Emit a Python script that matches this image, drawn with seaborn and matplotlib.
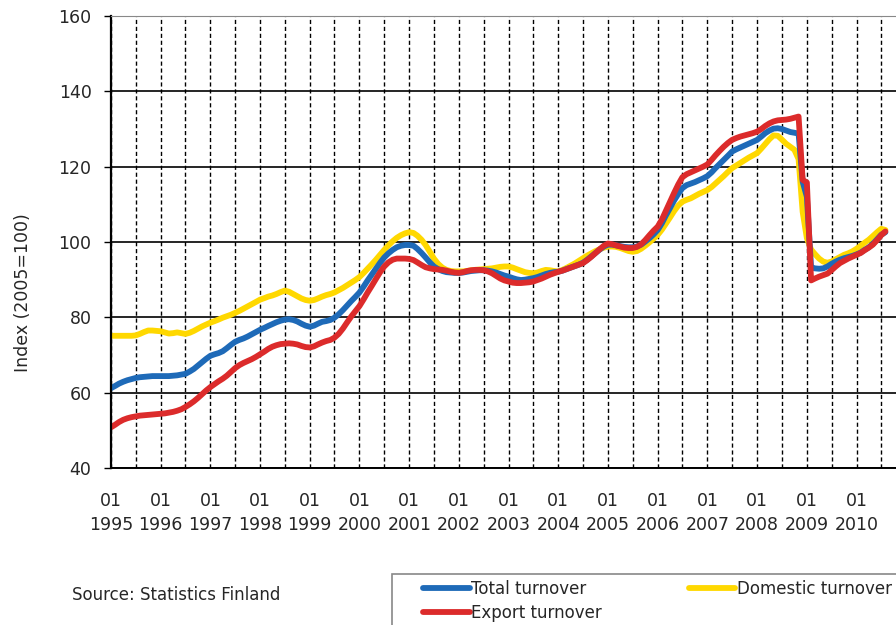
import matplotlib
matplotlib.use('Agg')
import matplotlib.pyplot as plt
from matplotlib.patches import Rectangle
import seaborn as sns
import pandas as pd

# Monthly trend indices (2005=100), Jan 1995 .. Aug 2010
total = [
    61.2, 61.8, 62.4, 62.9, 63.3, 63.6, 63.9, 64.1, 64.2, 64.3, 64.4, 64.4, 64.4,
    64.4, 64.4, 64.5, 64.6, 64.8, 65.0, 65.6, 66.3, 67.2, 68.1, 69.0, 69.8,
    70.2, 70.5, 71.0, 71.8, 72.7, 73.5, 74.0, 74.4, 74.9, 75.5, 76.1, 76.7,
    77.2, 77.7, 78.2, 78.7, 79.1, 79.4, 79.5, 79.3, 78.9, 78.3, 77.8, 77.5,
    77.8, 78.3, 78.8, 79.0, 79.3, 79.9, 80.8, 81.9, 83.1, 84.3, 85.4, 86.6,
    88.2, 89.8, 91.4, 92.9, 94.5, 95.9, 97.0, 97.9, 98.6, 99.0, 99.2, 99.2,
    99.0, 98.2, 97.1, 95.9, 94.6, 93.5, 92.8, 92.3, 92.0, 91.9, 91.8, 91.8,
    91.9, 92.1, 92.3, 92.4, 92.5, 92.5, 92.4, 92.2, 91.9, 91.5, 91.1, 90.8,
    90.4, 90.1, 89.9, 90.0, 90.2, 90.4, 90.7, 91.1, 91.5, 91.8, 92.0, 92.1,
    92.4, 92.8, 93.2, 93.6, 94.0, 94.5, 95.3, 96.2, 97.1, 98.0, 98.8, 99.3,
    99.3, 99.1, 98.9, 98.7, 98.6, 98.6, 98.8, 99.3, 100.1, 101.0, 102.0, 103.2,
    105.0, 107.0, 109.0, 111.0, 112.8, 114.3, 115.1, 115.5, 115.9, 116.4, 116.9, 117.5,
    118.5, 119.6, 120.7, 121.8, 122.9, 124.0, 124.6, 125.1, 125.6, 126.1, 126.6, 127.1,
    128.0, 128.9, 129.6, 130.1, 130.2, 130.0, 129.6, 129.2, 129.0, 128.8, 116.0, 112.0,
    93.3, 93.0, 92.9, 93.0, 93.5, 94.2, 94.8, 95.3, 95.7, 96.0, 96.3, 96.7, 97.2,
    97.9, 98.6, 99.5, 100.7, 101.9, 102.6,
]
domestic = [
    75.1, 75.1, 75.1, 75.1, 75.1, 75.1, 75.2, 75.6, 76.1, 76.5, 76.5, 76.4, 76.3,
    76.0, 75.7, 75.8, 76.0, 75.8, 75.6, 75.9, 76.4, 77.0, 77.6, 78.1, 78.6,
    79.0, 79.4, 79.9, 80.3, 80.7, 81.2, 81.7, 82.3, 82.9, 83.5, 84.1, 84.7,
    85.1, 85.5, 85.8, 86.2, 86.7, 87.1, 86.8, 86.2, 85.6, 85.0, 84.6, 84.4,
    84.6, 85.0, 85.5, 85.9, 86.2, 86.6, 87.2, 87.8, 88.5, 89.2, 89.9, 90.7,
    91.8, 92.9, 94.1, 95.3, 96.6, 97.9, 99.1, 100.2, 101.1, 101.8, 102.3, 102.6,
    102.4, 101.7, 100.6, 99.2, 97.4, 95.6, 94.2, 93.2, 92.6, 92.3, 92.2, 92.2,
    92.2, 92.3, 92.5, 92.6, 92.7, 92.8, 92.9, 93.0, 93.2, 93.4, 93.5, 93.5,
    93.2, 92.8, 92.4, 92.0, 91.8, 91.7, 91.9, 92.3, 92.6, 92.5, 92.3, 92.2,
    92.6, 93.1, 93.7, 94.3, 95.0, 95.7, 96.4, 97.0, 97.6, 98.1, 98.5, 98.8,
    98.8, 98.7, 98.4, 98.0, 97.6, 97.4, 97.6, 98.2, 99.0, 99.9, 100.9, 101.9,
    103.3, 104.8, 106.5, 108.2, 109.7, 110.7, 111.2, 111.6, 112.2, 112.8, 113.3, 113.8,
    114.6, 115.5, 116.5, 117.5, 118.6, 119.6, 120.3, 121.0, 121.7, 122.4, 123.0, 123.6,
    124.8, 126.0, 127.3, 128.3, 128.2, 127.2, 126.1, 125.3, 124.5, 122.0, 108.0, 101.0,
    98.0, 96.8, 95.6, 94.8, 94.5, 94.8, 95.4, 96.0, 96.6, 97.0, 97.5, 98.2, 99.0,
    99.8, 100.6, 101.6, 102.6, 103.5, 103.2,
]
export = [
    50.8, 51.5, 52.2, 52.8, 53.2, 53.5, 53.7, 53.9, 54.0, 54.1, 54.2, 54.3, 54.4,
    54.5, 54.7, 54.9, 55.2, 55.6, 56.2, 56.9, 57.7, 58.6, 59.6, 60.6, 61.5,
    62.3, 63.0, 63.7, 64.5, 65.5, 66.5, 67.3, 67.9, 68.4, 68.9, 69.5, 70.2,
    70.9, 71.6, 72.2, 72.6, 72.9, 73.0, 73.1, 73.0, 72.8, 72.4, 72.1, 72.0,
    72.3, 72.8, 73.3, 73.7, 74.0, 74.6, 75.6, 77.0, 78.6, 80.2, 81.6, 83.0,
    84.8, 86.6, 88.4, 90.2, 92.0, 93.5, 94.6, 95.3, 95.6, 95.6, 95.6, 95.5,
    95.2, 94.6, 93.9, 93.3, 93.0, 92.8, 92.7, 92.6, 92.4, 92.1, 91.9, 91.8,
    92.0, 92.3, 92.5, 92.6, 92.6, 92.5, 92.2, 91.7, 91.0, 90.3, 89.8, 89.5,
    89.2, 89.1, 89.1, 89.2, 89.3, 89.5, 89.9, 90.3, 90.8, 91.3, 91.7, 92.1,
    92.4, 92.8, 93.2, 93.6, 94.0, 94.4, 95.2, 96.1, 97.1, 98.1, 99.0, 99.6,
    99.4, 99.1, 98.8, 98.5, 98.4, 98.4, 98.7, 99.4, 100.5, 101.8, 103.0, 104.1,
    106.0, 108.2, 110.6, 113.0, 115.3, 117.2, 118.0, 118.5, 119.0, 119.5, 120.0, 120.6,
    121.8, 123.0, 124.2, 125.3, 126.3, 127.1, 127.6, 128.0, 128.3, 128.6, 128.9, 129.3,
    130.0, 130.8, 131.5, 132.0, 132.3, 132.4, 132.5, 132.7, 133.0, 133.3, 116.5, 115.8,
    89.8, 90.3, 90.8, 91.2, 91.6, 92.5, 93.5, 94.4, 95.0, 95.6, 96.1, 96.6, 97.1,
    97.8, 98.5, 99.3, 100.5, 101.8, 102.8,
]

series_names = ['Total turnover', 'Domestic turnover', 'Export turnover']
colors = {'Total turnover': '#1e6ab8', 'Domestic turnover': '#ffd800',
          'Export turnover': '#dc2b2b'}
years = list(range(1995, 2011))
year_labels = ['01\n%d' % y for y in years]

months = pd.date_range('1995-01-01', periods=len(total), freq='MS')
df = pd.concat([
    pd.DataFrame({'month': months, 'index': vals, 'series': name})
    for name, vals in zip(series_names, [total, domestic, export])
])

sns.set_style('white')
plt.rcParams['font.family'] = ['DejaVu Sans']

fig = plt.figure(figsize=(8.96, 6.25), dpi=100)
ax = fig.add_axes([111 / 896, 1 - 468 / 625, 1 - 111 / 896, (468 - 16) / 625])

sns.lineplot(data=df, x='month', y='index', hue='series',
             hue_order=['Domestic turnover', 'Total turnover', 'Export turnover'],
             palette=colors, linewidth=4.2, ax=ax)

ax.set_ylim(40, 160)
ax.set_yticks(range(40, 161, 20))
ax.set_xlim(pd.Timestamp('1995-01-01'), pd.Timestamp('2010-10-18'))
ax.set_xticks([pd.Timestamp('%d-01-01' % y) for y in years])
ax.set_xticklabels(year_labels)
ax.set_xticks([pd.Timestamp('%d-07-01' % y) for y in years], minor=True)
for lab in ax.get_xticklabels():
    lab.set_linespacing(1.45)

ax.tick_params(axis='x', which='both', length=0, pad=17, labelsize=12.5)
ax.tick_params(axis='y', length=5, width=1, color='black', pad=9, labelsize=12.5,
               direction='out', left=True)

ax.set_axisbelow(True)
ax.grid(axis='x', which='both', color='black', linestyle=(0, (3, 2)), linewidth=1)
ax.grid(axis='y', which='major', color='black', linestyle='-', linewidth=1.2)
ax.get_ygridlines()[-1].set_color('#888888')

ax.spines['right'].set_visible(False)
ax.spines['top'].set_color('#888888')
ax.spines['left'].set_color('black')
ax.spines['left'].set_linewidth(1.6)
ax.spines['bottom'].set_color('black')
ax.spines['bottom'].set_linewidth(1.4)

ax.set_xlabel('')
ax.set_ylabel('Index (2005=100)', fontsize=12.5)
ax.yaxis.set_label_coords(-0.10, 0.387)

# legend: frame is cropped by the figure edge, so draw it as a separate box
handles, labels = ax.get_legend_handles_labels()
ax.get_legend().remove()
order = ['Total turnover', 'Export turnover', 'Domestic turnover']
hmap = dict(zip(labels, handles))
fig.patches.append(Rectangle((392 / 896, -0.2), 0.6, 0.2 + 1 - 574 / 625,
                             transform=fig.transFigure, fill=False,
                             edgecolor='#888888', linewidth=1.2))
leg = fig.legend([hmap[k] for k in order], order, ncol=2,
                 loc='upper left', bbox_to_anchor=(423 / 896, 1 - 580 / 625),
                 borderaxespad=0, borderpad=0, frameon=False, fontsize=12,
                 handlelength=2.8, handletextpad=0.1, columnspacing=5.2,
                 labelspacing=0.35)
for line in leg.get_lines():
    line.set_linewidth(4.2)

fig.text(72 / 896, 1 - 595 / 625, 'Source: Statistics Finland', fontsize=12,
         va='center', ha='left')

fig.savefig('out.png', dpi=100)
